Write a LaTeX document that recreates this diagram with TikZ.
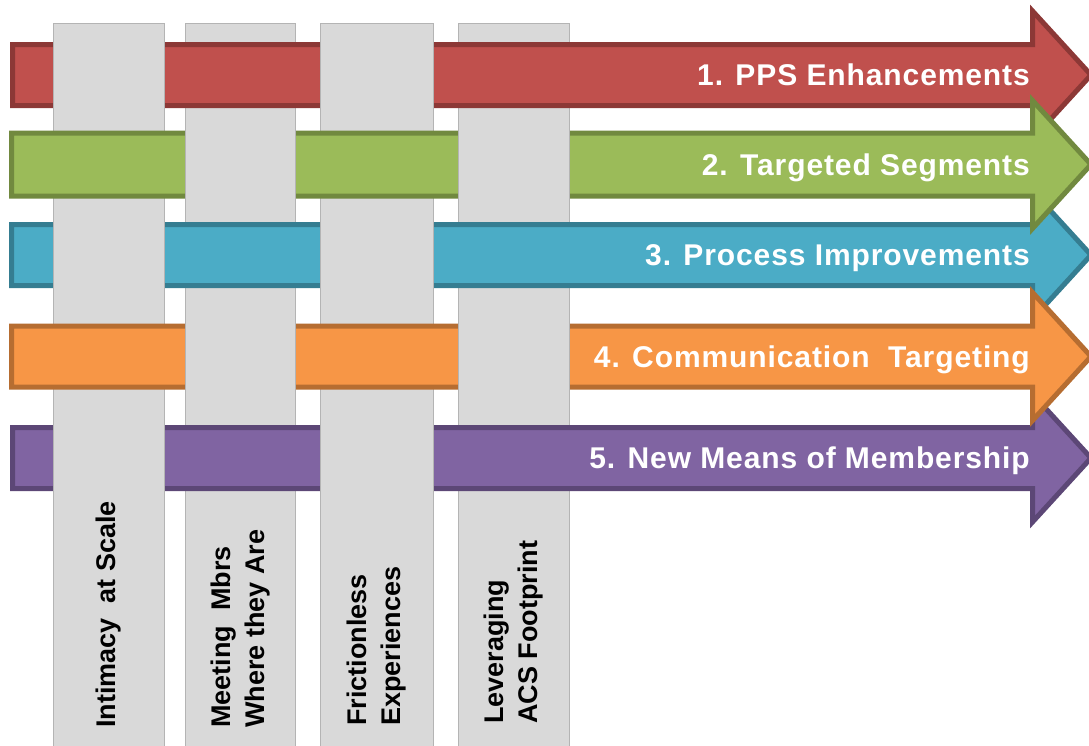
\documentclass[tikz,border=0pt]{standalone}
\usepackage{fontspec}
\setmainfont{Liberation Sans}
\newfontfamily\bandfont[LetterSpace=3]{Liberation Sans}
\begin{document}
\begin{tikzpicture}[x=1pt, y=-1pt,
  band/.style={line width=5pt, line join=miter},
  bandtext/.style={text=white, anchor=base east, inner sep=0pt, font=\bandfont\bfseries\fontsize{30}{34}\selectfont},
  pillar/.style={fill=pillarfill},
  pillaredge/.style={draw=pillarline, line width=1pt},
  pillartext/.style={rotate=90, anchor=west, align=left, inner sep=0pt, font=\bfseries\fontsize{27}{34}\selectfont}]
\definecolor{pillarfill}{HTML}{D9D9D9}
\definecolor{pillarline}{HTML}{B4B4B4}
\definecolor{redfill}{HTML}{C0504D}
\definecolor{redline}{HTML}{8C3836}
\definecolor{greenfill}{HTML}{9BBB59}
\definecolor{greenline}{HTML}{71893F}
\definecolor{bluefill}{HTML}{4BACC6}
\definecolor{blueline}{HTML}{357D91}
\definecolor{orangefill}{HTML}{F79646}
\definecolor{orangeline}{HTML}{B66D31}
\definecolor{purplefill}{HTML}{8064A2}
\definecolor{purpleline}{HTML}{5C4776}
\useasboundingbox (0,0) rectangle (1089,745);
\clip (0,0) rectangle (1089,745);
% the four pillars, under everything
\fill[pillar] (53.5,23) rectangle (164,750);
\draw[pillaredge] (53.5,750) -- (53.5,23) -- (164,23) -- (164,750);
\fill[pillar] (185,23) rectangle (295.5,750);
\draw[pillaredge] (185,750) -- (185,23) -- (295.5,23) -- (295.5,750);
\fill[pillar] (320.5,23) rectangle (433,750);
\draw[pillaredge] (320.5,750) -- (320.5,23) -- (433,23) -- (433,750);
\fill[pillar] (458,23) rectangle (569.5,750);
\draw[pillaredge] (458,750) -- (458,23) -- (569.5,23) -- (569.5,750);
% the five arrows
\draw[band, draw=redline, fill=redfill] (12.5,44.5) -- (1032.5,44.5) -- (1032.5,11) -- (1091,75) -- (1032.5,139) -- (1032.5,105.5) -- (12.5,105.5) -- cycle;
\draw[band, draw=blueline, fill=bluefill] (11.5,224.5) -- (1032.5,224.5) -- (1032.5,191) -- (1091,255) -- (1032.5,319) -- (1032.5,285.5) -- (11.5,285.5) -- cycle;
\draw[band, draw=purpleline, fill=purplefill] (12.5,427.5) -- (1032.5,427.5) -- (1032.5,394) -- (1091,458) -- (1032.5,522) -- (1032.5,488.5) -- (12.5,488.5) -- cycle;
\draw[band, draw=greenline, fill=greenfill] (11.5,133) -- (1032.5,133) -- (1032.5,100.5) -- (1091,164.5) -- (1032.5,228.5) -- (1032.5,196) -- (11.5,196) -- cycle;
\draw[band, draw=orangeline, fill=orangefill] (11.5,326) -- (1032.5,326) -- (1032.5,292.5) -- (1091,356.5) -- (1032.5,420.5) -- (1032.5,387) -- (11.5,387) -- cycle;
% pillars woven back over the arrows
\fill[pillar] (53.5,41.5) rectangle (164,108.5);
\draw[pillaredge] (53.5,41.5) -- (53.5,108.5) (164,41.5) -- (164,108.5);
\fill[pillar] (320.5,41.5) rectangle (433,108.5);
\draw[pillaredge] (320.5,41.5) -- (320.5,108.5) (433,41.5) -- (433,108.5);
\fill[pillar] (185,130) rectangle (295.5,199);
\draw[pillaredge] (185,130) -- (185,199) (295.5,130) -- (295.5,199);
\fill[pillar] (458,130) rectangle (569.5,199);
\draw[pillaredge] (458,130) -- (458,199) (569.5,130) -- (569.5,199);
\fill[pillar] (53.5,221.5) rectangle (164,288.5);
\draw[pillaredge] (53.5,221.5) -- (53.5,288.5) (164,221.5) -- (164,288.5);
\fill[pillar] (320.5,221.5) rectangle (433,288.5);
\draw[pillaredge] (320.5,221.5) -- (320.5,288.5) (433,221.5) -- (433,288.5);
\fill[pillar] (185,323) rectangle (295.5,390);
\draw[pillaredge] (185,323) -- (185,390) (295.5,323) -- (295.5,390);
\fill[pillar] (458,323) rectangle (569.5,390);
\draw[pillaredge] (458,323) -- (458,390) (569.5,323) -- (569.5,390);
\fill[pillar] (53.5,424.5) rectangle (164,491.5);
\draw[pillaredge] (53.5,424.5) -- (53.5,491.5) (164,424.5) -- (164,491.5);
\fill[pillar] (320.5,424.5) rectangle (433,491.5);
\draw[pillaredge] (320.5,424.5) -- (320.5,491.5) (433,424.5) -- (433,491.5);
% labels
\node[bandtext] (pps) at (1030,85.5) {1. PPS Enhancements};
\node[bandtext] (segments) at (1030,175) {2. Targeted Segments};
\node[bandtext] (process) at (1030,265.5) {3. Process Improvements};
\node[bandtext] (communication) at (1030,367) {4. Communication\ \ Targeting};
\node[bandtext] (membership) at (1030,468.5) {5. New Means of Membership};
\node[pillartext] (intimacy) at (108.75,728) {Intimacy\ \ at Scale};
\node[pillartext] (meeting) at (240.25,728) {Meeting\ \ Mbrs\\Where they Are};
\node[pillartext] (frictionless) at (376.75,726) {Frictionless\\Experiences};
\node[pillartext] (leveraging) at (513.75,724) {Leveraging\\ACS Footprint};
\end{tikzpicture}
\end{document}
